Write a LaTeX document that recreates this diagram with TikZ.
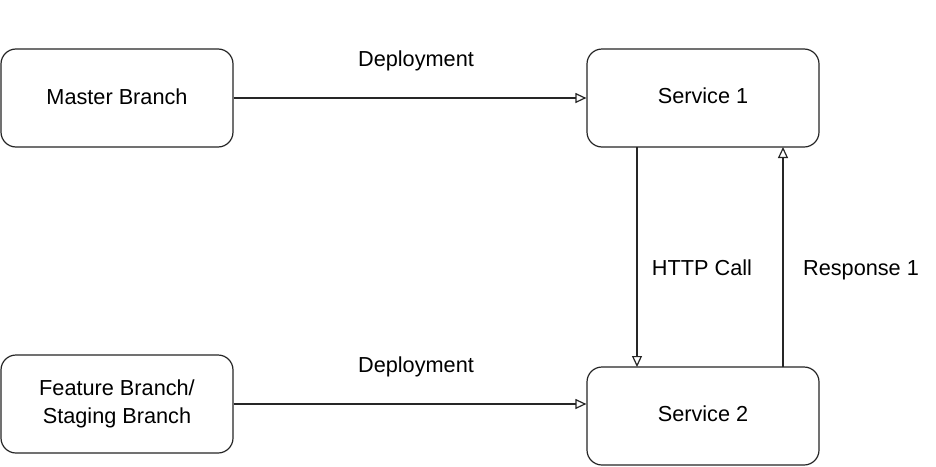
\documentclass[tikz,border=0pt]{standalone}
\usepackage{fontspec}
\setmainfont{Liberation Sans}
\usetikzlibrary{arrows.meta}
\begin{document}
\begin{tikzpicture}[x=1pt,y=-1pt,
  box/.style={draw=black!85, line width=1.2pt, rounded corners=15pt, fill=white},
  conn/.style={draw=black!85, line width=1.2pt, -{Triangle[open, length=11pt, width=10pt]}},
  lbl/.style={font=\fontsize{21.7}{28}\selectfont, align=center, anchor=base, inner sep=0pt}]
\useasboundingbox[fill=white] (0,0) rectangle (936,466);
\node[box, minimum width=232pt, minimum height=98pt] (mb) at (117,98) {};
\node[lbl] (mbt) at (117,104) {Master Branch};
\node[box, minimum width=232pt, minimum height=98pt] (s1) at (703,98) {};
\node[lbl] (s1t) at (703,103.5) {Service 1};
\node[box, minimum width=232pt, minimum height=98pt] (fb) at (117,404) {};
\node[lbl] (fbt) at (117,423) {Feature Branch/\\Staging Branch};
\node[box, minimum width=232pt, minimum height=98pt] (s2) at (703,416) {};
\node[lbl] (s2t) at (703,421.7) {Service 2};
\coordinate (hc1) at (637,147);
\coordinate (hc2) at (637,367);
\coordinate (r1) at (783,367);
\coordinate (r2) at (783,147);
\draw[conn] (mb.east) -- (s1.west|-mb.east);
\draw[conn] (fb.east) -- (s2.west|-fb.east);
\draw[conn] (hc1) -- (hc2);
\draw[conn] (r1) -- (r2);
\node[lbl] (d1) at (416,66.5) {Deployment};
\node[lbl] (d2) at (416,372) {Deployment};
\node[lbl] (hl) at (702,275) {HTTP Call};
\node[lbl] (rl) at (861,275) {Response 1};
\end{tikzpicture}
\end{document}
